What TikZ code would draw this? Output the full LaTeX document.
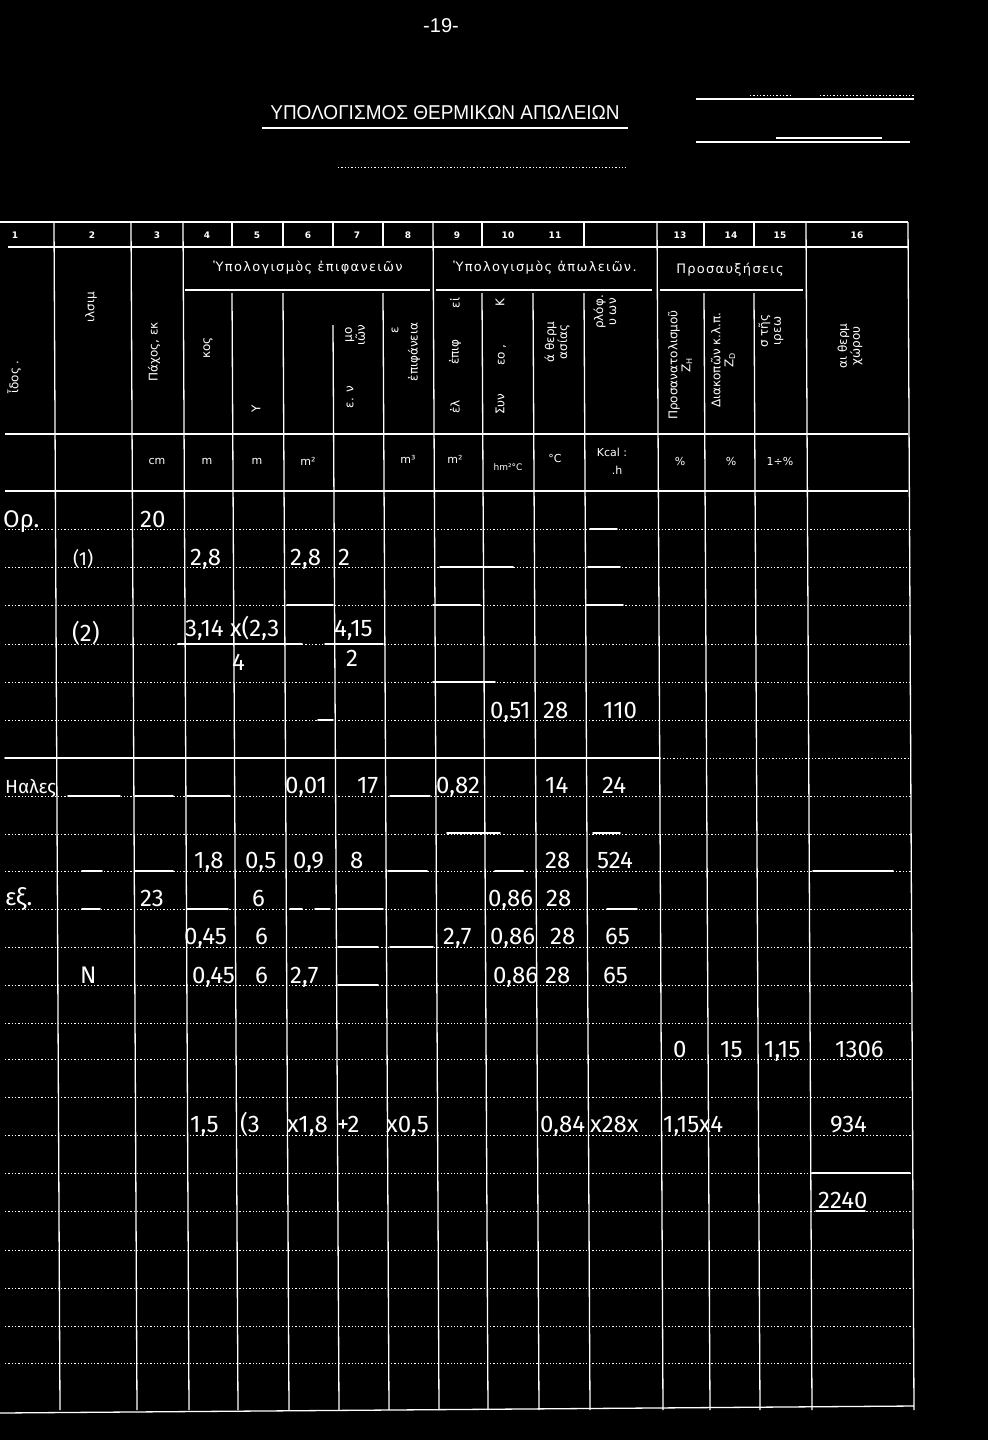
\documentclass[tikz,border=0pt]{standalone}
\usepackage{fontspec}
\setmainfont{DejaVu Sans}
\newfontfamily\titlefont{Liberation Sans}
\newfontfamily\handfont{Fira Sans}
\usetikzlibrary{positioning}

\begin{document}
\begin{tikzpicture}[
    x=1pt, y=-1pt,
    rule/.style={white, line width=1.3pt},
    dotrule/.style={white, line width=1pt, dash pattern=on 1.3pt off 2pt},
    handrule/.style={white, line width=1.8pt, line cap=round},
    colno/.style={text=white, font=\fontsize{9}{10}\selectfont\bfseries, inner sep=0pt},
    group/.style={text=white, font=\fontsize{13}{14}\selectfont\addfontfeature{LetterSpace=10}, inner sep=0pt},
    vhead/.style={text=white, font=\fontsize{12}{13}\selectfont, inner sep=0pt, rotate=90, align=center},
    unit/.style={text=white, font=\fontsize{11}{12}\selectfont, inner sep=0pt},
    hand/.style={text=white, font=\handfont\fontsize{24}{26}\selectfont, inner sep=0pt, anchor=base west},
    handsm/.style={hand, font=\handfont\fontsize{19}{21}\selectfont}
]

% page
\fill[black] (0,0) rectangle (988,1440);
\useasboundingbox (0,0) rectangle (988,1440);

% title block
\node[text=white, font=\titlefont\fontsize{20}{22}\selectfont, inner sep=0pt] (pageno) at (441,26) {-19-};
\node[text=white, font=\titlefont\fontsize{20}{22}\selectfont, inner sep=0pt] (title) at (445,113) {\scalebox{0.95}[1]{ΥΠΟΛΟΓΙΣΜΟΣ ΘΕΡΜΙΚΩΝ ΑΠΩΛΕΙΩΝ}};
\draw[rule] (262,128) -- (628,128);
\draw[dotrule] (338,167) -- (628,167);
\draw[rule] (696,99) -- (914,99);
\draw[dotrule] (750,95) -- (790,95);
\draw[dotrule] (820,95) -- (915,95);
\draw[rule] (776,138) -- (882,138);
\draw[rule] (696,142) -- (910,142);

% frame of the table
\draw[rule] (0,222) -- (908,222);
\draw[rule] (8,247) -- (908,247);
\draw[rule] (185,290) -- (430,290);
\draw[rule] (436,290) -- (652,290);
\draw[rule] (660,290) -- (803,290);
\draw[rule] (5,434) -- (908,434);
\draw[rule] (5,491) -- (908,491);
\draw[rule] (0,1413) -- (914,1406);

% columns
\foreach \x in {54,131,183,433,657,806,908}
    \draw[rule] (\x,222) -- (\x+6,1410);
\foreach \x in {232,283,383,482,584,704,754} {
    \draw[rule] (\x,222) -- (\x,247);
    \draw[rule] (\x,293) -- (\x+6,1410);
}
\draw[rule] (333,222) -- (333,247);
\draw[rule] (333,325) -- (339,1410);
\draw[rule] (533,293) -- (539,1410);

% rows
\foreach \y in {529,567,605,644,682,720,796,834,871,909,947,985,1023,1059,1097,1135,1173,1211,1250,1288,1326,1363}
    \draw[dotrule] (5,\y) -- (912,\y);
\draw[handrule] (5,758) -- (660,758);
\draw[dotrule] (660,758) -- (910,758);

% column numbers
\foreach \n/\x in {1/15,2/92,3/157,4/207,5/257,6/308,7/357,8/408,9/457,10/508,11/555,13/680,14/731,15/780,16/857}
    \node[colno] (num\n) at (\x,235) {\n};

% headings
\node[group] (grpsurf) at (308,268) {Ὑπολογισμὸς ἐπιφανειῶν};
\node[group] (grploss) at (545,268) {Ὑπολογισμὸς ἀπωλειῶν.};
\node[group] (grpadd) at (730,270) {Προσαυξήσεις};

\node[vhead] (hkind) at (14,377) {ἶδος .};
\node[vhead] (hplace) at (91,307) {ιλσιμ};
\node[vhead] (hthick) at (154,352) {Πάχος, εκ};
\node[vhead] (hlen) at (208,348) {κος};
\node[vhead] (hhigh) at (256,409) {Υ};
\node[vhead] (hsurfa) at (355,335) {μο\\ιῶν};
\node[vhead] (hsurfb) at (350,397) {ε. ν};
\node[vhead] (hneta) at (395,330) {ε};
\node[vhead] (hnetb) at (414,352) {ἐπιφάνεια};
\node[vhead] (hcoefa) at (455,303) {εἰ};
\node[vhead] (hcoefb) at (455,352) {ἐπιφ};
\node[vhead] (hcoefc) at (455,407) {ἐλ};
\node[vhead] (hka) at (500,303) {Κ};
\node[vhead] (hkb) at (502,355) {εο ,};
\node[vhead] (hkc) at (500,404) {Συν};
\node[vhead] (hdiff) at (557,342) {ά θερμ\\ασίας};
\node[vhead] (hflow) at (605,312) {ρλόφ.\\υ ων};
\node[vhead] (horient) at (680,365) {Προσανατολισμοῦ\\Ζ\textsubscript{Η}};
\node[vhead] (hbreak) at (723,360) {Διακοπῶν κ.λ.π.\\Ζ\textsubscript{D}};
\node[vhead] (hrest) at (771,331) {σ τῆς\\ιρεω};
\node[vhead] (hroom) at (850,346) {αι θερμ\\χώρου};

% units
\node[unit] (ucm) at (157,461) {cm};
\node[unit] (ulen) at (207,461) {m};
\node[unit] (uhigh) at (257,461) {m};
\node[unit] (uarea) at (308,461) {m²};
\node[unit] (unet) at (408,459) {m³};
\node[unit] (ucoef) at (455,459) {m²};
\node[unit, font=\fontsize{9}{10}\selectfont] (uk) at (508,467) {hm²°C};
\node[unit] (udiff) at (555,458) {°C};
\node[unit] (uflowa) at (612,452) {Kcal :};
\node[unit] (uflowb) at (617,470) {.h};
\node[unit] (uorient) at (680,461) {\%};
\node[unit] (ubreak) at (731,461) {\%};
\node[unit] (urest) at (780,461) {1÷\%};

% handwritten entries
\node[hand] (ra1) at (3,527) {Ορ.};
\node[hand] (ra2) at (140,527) {20};
\draw[handrule] (590,529) -- (617,529);

\node[handsm] (rb1) at (73,565) {(1)};
\node[hand] (rb2) at (190,565) {2,8};
\node[hand] (rb3) at (290,565) {2,8};
\node[hand] (rb4) at (338,565) {2};
\draw[handrule] (440,567) -- (513,567);
\draw[handrule] (588,567) -- (620,567);

\draw[handrule] (287,605) -- (333,605);
\draw[handrule] (433,605) -- (480,605);
\draw[handrule] (586,605) -- (623,605);

\node[hand] (rd1) at (72,641) {(2)};
\node[hand] (rd2) at (185,636) {3,14 x(2,3};
\node[hand] (rd3) at (334,636) {4,15};
\draw[handrule] (178,644) -- (302,644);
\draw[handrule] (325,644) -- (383,644);
\node[hand] (rd4) at (232,670) {4};
\node[hand] (rd5) at (346,666) {2};

\draw[handrule] (433,682) -- (495,682);

\draw[handrule] (318,720) -- (333,720);
\node[hand] (rf1) at (490,718) {0,51};
\node[hand] (rf2) at (543,718) {28};
\node[hand] (rf3) at (603,718) {110};

\node[handsm] (rh1) at (5,793) {Ηαλες};
\draw[handrule] (68,796) -- (120,796);
\draw[handrule] (135,796) -- (173,796);
\draw[handrule] (187,796) -- (230,796);
\node[hand] (rh2) at (285,793) {0,01};
\node[hand] (rh3) at (357,793) {17};
\draw[handrule] (390,796) -- (430,796);
\node[hand] (rh4) at (436,793) {0,82};
\node[hand] (rh5) at (545,793) {14};
\node[hand] (rh6) at (602,793) {24};

\draw[handrule] (447,833) -- (500,833);
\draw[handrule] (593,833) -- (620,833);

\draw[handrule] (82,871) -- (102,871);
\draw[handrule] (135,871) -- (173,871);
\node[hand] (rj1) at (194,868) {1,8};
\node[hand] (rj2) at (245,868) {0,5};
\node[hand] (rj3) at (293,868) {0,9};
\node[hand] (rj4) at (350,868) {8};
\draw[handrule] (388,871) -- (427,871);
\draw[handrule] (495,871) -- (523,871);
\node[hand] (rj5) at (545,868) {28};
\node[hand] (rj6) at (597,868) {524};
\draw[handrule] (813,871) -- (893,871);

\node[hand] (rk1) at (5,905) {εξ.};
\draw[handrule] (82,909) -- (100,909);
\node[hand] (rk2) at (140,906) {23};
\draw[handrule] (187,909) -- (228,909);
\node[hand] (rk3) at (252,906) {6};
\draw[handrule] (290,909) -- (302,909);
\draw[handrule] (315,909) -- (330,909);
\draw[handrule] (338,909) -- (383,909);
\node[hand] (rk4) at (488,906) {0,86};
\node[hand] (rk5) at (546,906) {28};
\draw[handrule] (607,909) -- (637,909);

\node[hand] (rl1) at (184,944) {0,45};
\node[hand] (rl2) at (255,944) {6};
\draw[handrule] (338,947) -- (378,947);
\draw[handrule] (390,947) -- (433,947);
\node[hand] (rl3) at (443,944) {2,7};
\node[hand] (rl4) at (490,944) {0,86};
\node[hand] (rl5) at (550,944) {28};
\node[hand] (rl6) at (605,944) {65};

\node[hand] (rm1) at (80,983) {N};
\node[hand] (rm2) at (192,983) {0,45};
\node[hand] (rm3) at (255,983) {6};
\node[hand] (rm4) at (290,983) {2,7};
\draw[handrule] (338,985) -- (378,985);
\node[hand] (rm5) at (493,983) {0,86};
\node[hand] (rm6) at (545,983) {28};
\node[hand] (rm7) at (603,983) {65};

\node[hand] (ro1) at (673,1057) {0};
\node[hand] (ro2) at (720,1057) {15};
\node[hand] (ro3) at (764,1057) {1,15};
\node[hand] (ro4) at (835,1057) {1306};

\node[hand] (rq1) at (190,1132) {1,5};
\node[hand] (rq2) at (240,1132) {(3};
\node[hand] (rq3) at (287,1132) {x1,8};
\node[hand] (rq4) at (337,1132) {+2};
\node[hand] (rq5) at (386,1132) {x0,5};
\node[hand] (rq6) at (540,1132) {0,84};
\node[hand] (rq7) at (590,1132) {x28x};
\node[hand] (rq8) at (663,1132) {1,15x4};
\node[hand] (rq9) at (830,1132) {934};

\draw[handrule] (812,1173) -- (910,1173);

\node[hand] (rs1) at (818,1208) {2240};
\draw[handrule] (816,1211) -- (865,1211);

\end{tikzpicture}
\end{document}
